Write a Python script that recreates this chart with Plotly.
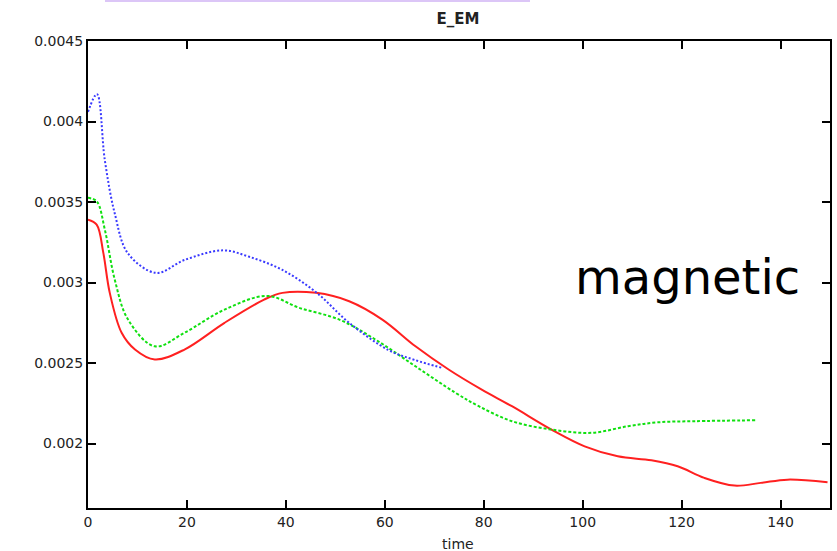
import plotly.graph_objects as go

# ---- data ----
blue_t = [0, 1.8, 3.4, 5.4, 8.1, 13.8, 19.5, 27.3, 32.6, 39.2, 46.1, 52.8, 60.8, 66.0, 71.6]
blue_v = [0.00406, 0.00417, 0.00376, 0.00343, 0.00318, 0.00306, 0.00314, 0.00320, 0.00316,
          0.00308, 0.00294, 0.00275, 0.00258, 0.00252, 0.00247]

green_t = [0, 1.75, 3.4, 5.4, 8.1, 13.5, 19.5, 27.6, 36.2, 42.7, 50.8, 58.1, 66.2, 74.3, 79.0,
           85.7, 93.7, 101.8, 109.2, 115.2, 122.6, 135.3]
green_v = [0.003526, 0.003505, 0.003329, 0.003019, 0.00277, 0.002604, 0.002688, 0.002832,
           0.002917, 0.002843, 0.00277, 0.002646, 0.00248, 0.002315, 0.002232, 0.002139,
           0.002087, 0.002067, 0.002108, 0.002132, 0.002139, 0.002145]

red_t = [0, 1.75, 3.1, 4.4, 6.8, 9.5, 13.5, 19.5, 27.6, 35.6, 39.3, 46.1, 52.8, 59.5, 66.2,
         72.9, 79.6, 85.7, 93.7, 100.4, 107.1, 113.9, 119.2, 124.6, 130.7, 136.0, 141.4, 149.5]
red_v = [0.003391, 0.00336, 0.003184, 0.002936, 0.002688, 0.002584, 0.002522, 0.002584,
         0.00275, 0.002894, 0.002936, 0.002936, 0.002884, 0.00277, 0.002604, 0.00246,
         0.002335, 0.002232, 0.002087, 0.001983, 0.001921, 0.001896, 0.001859, 0.001787,
         0.001739, 0.001756, 0.001776, 0.00176]

x_ticks = [0, 20, 40, 60, 80, 100, 120, 140]
y_ticks = [0.002, 0.0025, 0.003, 0.0035, 0.004, 0.0045]
y_tick_text = ["0.002", "0.0025", "0.003", "0.0035", "0.004", "0.0045"]

W, H = 837, 551
L, R, T, B = 88, 7, 41, 43
PW, PH = W - L - R, H - T - B

fig = go.Figure()
fig.add_trace(go.Scatter(x=red_t, y=red_v, mode="lines", line=dict(color="#ff2020", width=2, shape="spline")))
fig.add_trace(go.Scatter(x=green_t, y=green_v, mode="lines", line=dict(color="#10e010", width=2, dash="3px,2px", shape="spline")))
fig.add_trace(go.Scatter(x=blue_t, y=blue_v, mode="lines", line=dict(color="#3a3aff", width=2, dash="2px,2px", shape="spline")))

tickfont = dict(family="DejaVu Sans", size=14, color="#222")
axis_common = dict(showgrid=False, zeroline=False, showline=True, linecolor="black", linewidth=2,
                   mirror="allticks", ticks="inside", ticklen=8, tickwidth=2, tickcolor="black",
                   tickfont=tickfont, automargin=False)

fig.update_layout(
    width=W, height=H,
    margin=dict(l=L, r=R, t=T, b=B),
    paper_bgcolor="white", plot_bgcolor="white",
    showlegend=False,
    title=dict(text="<b>E_EM</b>", x=(458) / W, xanchor="center", y=1 - 19 / H, yanchor="middle",
               font=dict(family="DejaVu Sans", size=15, color="#222")),
    xaxis=dict(range=[0, 150], tickvals=x_ticks, ticktext=[str(v) for v in x_ticks], **axis_common),
    yaxis=dict(range=[0.0016, 0.0045], tickvals=y_ticks, ticktext=y_tick_text, **axis_common),
    shapes=[dict(type="rect", xref="paper", yref="paper",
                 x0=(105 - L) / PW, x1=(530 - L) / PW,
                 y0=(H - B - 2) / PH, y1=(H - B + 1) / PH,
                 fillcolor="#dcc6f7", line=dict(width=0))],
    annotations=[
        dict(text="magnetic", xref="paper", yref="paper",
             x=(573 - L) / PW, y=(H - B - 277) / PH, xanchor="left", yanchor="middle",
             showarrow=False, font=dict(family="DejaVu Sans", size=48, color="black")),
        dict(text="time", xref="paper", yref="paper",
             x=(458 - L) / PW, y=(H - B - 544) / PH, xanchor="center", yanchor="middle",
             showarrow=False, font=dict(family="DejaVu Sans", size=14, color="#222")),
    ],
)

fig.write_html("out.html", config={"displayModeBar": False},
               post_script="document.body.style.margin='0';document.body.style.overflow='hidden';")
